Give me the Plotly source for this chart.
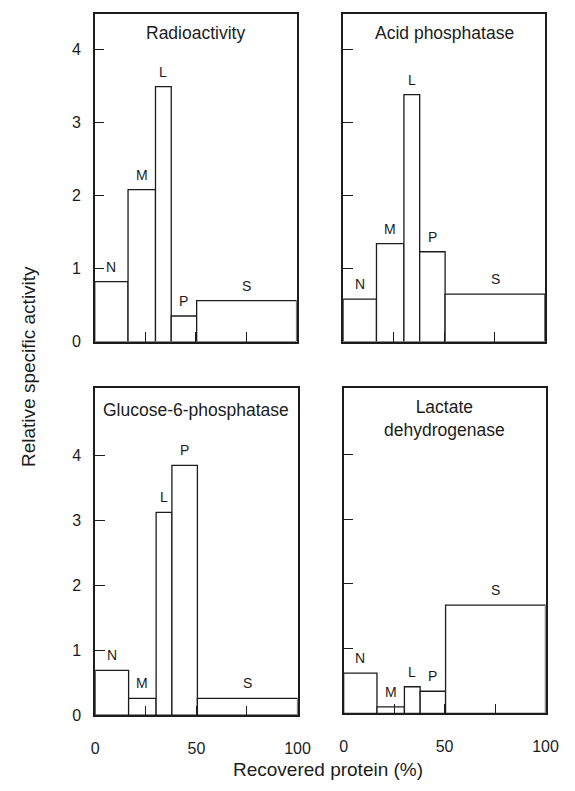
import numpy as np
import plotly.graph_objects as go

# ---- data ----
fractions = ["N", "M", "L", "P", "S"]
protein_pct = [16.5, 13.6, 7.8, 12.6, 49.5]          # % of recovered protein per fraction
radioactivity = [0.82, 2.08, 3.49, 0.35, 0.56]
acid_phosphatase = [0.58, 1.34, 3.38, 1.23, 0.65]
glucose6p = [0.69, 0.26, 3.12, 3.84, 0.26]
lactate_dh = [0.62, 0.10, 0.41, 0.34, 1.67]
panel_titles = ["Radioactivity", "Acid phosphatase", "Glucose-6-phosphatase", "Lactate<br>dehydrogenase"]
x_tickvals = [0, 25, 50, 75, 100]
x_ticktext = ["0", "", "50", "", "100"]
y_tickvals = [0, 1, 2, 3, 4]
y_ticktext = ["0", "1", "2", "3", "4"]

W, H = 575, 791
FONT = "Liberation Sans, Arial, Helvetica, sans-serif"
INK = "#1c1c1c"

edges = np.concatenate([[0], np.cumsum(protein_pct)])
centers = (edges[:-1] + edges[1:]) / 2

panels = [
    dict(vals=radioactivity, xpx=(93.5, 301.5), ypx=(14.5, 345.5), ymax=4.48, xl=False, yl=True, ty=33),
    dict(vals=acid_phosphatase, xpx=(349.5, 557.5), ypx=(14.5, 345.5), ymax=4.48, xl=False, yl=False, ty=33),
    dict(vals=glucose6p, xpx=(94, 302.5), ypx=(392.5, 723.5), ymax=5.03, xl=True, yl=True, ty=415),
    dict(vals=lactate_dh, xpx=(350, 558), ypx=(392, 721.5), ymax=5.03, xl=True, yl=False, ty=423),
]

fig = go.Figure()
annotations = []
for i, p in enumerate(panels):
    n = i + 1
    xa = "x" if n == 1 else f"x{n}"
    ya = "y" if n == 1 else f"y{n}"
    fig.add_trace(go.Bar(
        x=centers, y=p["vals"], width=protein_pct, base=0,
        marker=dict(color="white", line=dict(color=INK, width=1.3)),
        xaxis=xa, yaxis=ya, showlegend=False, hoverinfo="skip",
    ))
    xkey = "xaxis" if n == 1 else f"xaxis{n}"
    ykey = "yaxis" if n == 1 else f"yaxis{n}"
    fig.update_layout(**{
        xkey: dict(
            domain=[p["xpx"][0] / W, p["xpx"][1] / W], anchor=ya,
            range=[0, 100], tickmode="array", tickvals=x_tickvals, ticktext=x_ticktext,
            ticks="inside", ticklen=10, tickwidth=1.3, tickcolor=INK,
            showticklabels=p["xl"], ticklabelstandoff=18,
            showline=True, linecolor=INK, linewidth=1.5, mirror=True,
            showgrid=False, zeroline=False, fixedrange=True,
            tickfont=dict(family=FONT, size=16, color=INK),
        ),
        ykey: dict(
            domain=[1 - p["ypx"][1] / H, 1 - p["ypx"][0] / H], anchor=xa,
            range=[0, p["ymax"]], tickmode="array", tickvals=y_tickvals, ticktext=y_ticktext,
            ticks="inside", ticklen=10, tickwidth=1.3, tickcolor=INK,
            showticklabels=p["yl"], ticklabelstandoff=9,
            showline=True, linecolor=INK, linewidth=1.5, mirror=True,
            showgrid=False, zeroline=False, fixedrange=True,
            tickfont=dict(family=FONT, size=16, color=INK),
        ),
    })
    for c, v, lab in zip(centers, p["vals"], fractions):
        annotations.append(dict(
            x=c, y=v, xref=xa, yref=ya, text=lab, showarrow=False,
            yshift=15, yanchor="middle", font=dict(family=FONT, size=14, color=INK),
        ))
    annotations.append(dict(
        x=(p["xpx"][0] + p["xpx"][1]) / 2 / W, y=1 - p["ty"] / H, xref="paper", yref="paper",
        text=panel_titles[i], showarrow=False, xanchor="center", yanchor="middle",
        font=dict(family=FONT, size=17.5, color=INK),
    ))

annotations.append(dict(
    x=334 / W, y=1 - 778 / H, xref="paper", yref="paper", text="Recovered protein (%)",
    showarrow=False, xanchor="center", yanchor="middle",
    font=dict(family=FONT, size=19, color=INK),
))
annotations.append(dict(
    x=26 / W, y=1 - 371 / H, xref="paper", yref="paper", text="Relative specific activity",
    showarrow=False, xanchor="center", yanchor="middle", textangle=-90,
    font=dict(family=FONT, size=19, color=INK),
))

fig.update_layout(
    width=W, height=H, margin=dict(l=0, r=0, t=0, b=0),
    paper_bgcolor="white", plot_bgcolor="white",
    annotations=annotations, barmode="overlay",
    font=dict(family=FONT, color=INK),
)

fig.write_html("out.html")
